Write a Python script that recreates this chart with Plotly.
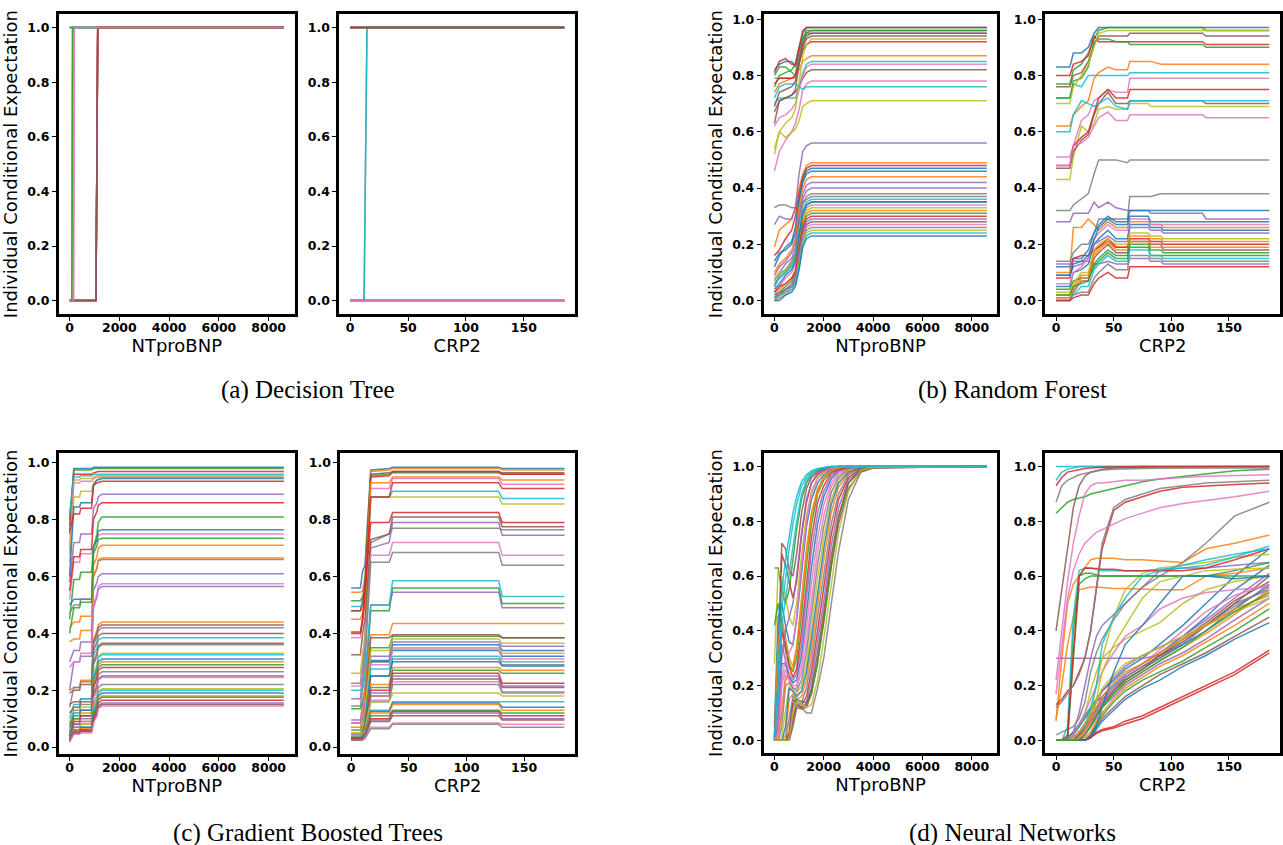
import plotly.graph_objects as go

TAB10 = ["#1f77b4", "#ff7f0e", "#2ca02c", "#d62728", "#9467bd",
         "#8c564b", "#e377c2", "#7f7f7f", "#bcbd22", "#17becf"]

# ---------------- (a) Decision Tree ----------------
DT_NT_X = [0, 90, 120, 160, 190, 1060, 1130, 8610]
DT_NT_Y = [
    [1, 1, 1, 1, 1, 1, 1, 1],
    [0, 0, 0, 0, 0, 0, 1, 1],
    [1, 1, 1, 1, 1, 1, 1, 1],
    [0, 0, 0, 0, 0, 0, 1, 1],
    [0, 0, 1, 1, 1, 1, 1, 1],
    [0, 0, 0, 0, 0, 0, 1, 1],
    [0, 0, 0, 0, 1, 1, 1, 1],
    [1, 1, 1, 1, 1, 1, 1, 1],
    [0, 0, 1, 1, 1, 1, 1, 1],
    [1, 1, 1, 1, 1, 1, 1, 1],
    [0, 0, 0, 0, 0, 0, 1, 1],
    [0, 0, 0, 0, 0, 0, 1, 1],
    [0, 0, 1, 1, 1, 1, 1, 1],
    [0, 0, 0, 0, 0, 0, 1, 1],
    [0, 0, 0, 0, 0, 0, 1, 1],
    [0, 0, 0, 0, 0, 0, 1, 1],
    [0, 0, 0, 0, 1, 1, 1, 1],
]

DT_CR_X = [0, 12, 14.5, 185]
DT_CR_Y = [
    [0, 0, 0, 0], [1, 1, 1, 1], [0, 0, 0, 0], [1, 1, 1, 1], [0, 0, 0, 0],
    [1, 1, 1, 1], [0, 0, 0, 0], [0, 0, 1, 1], [0, 0, 0, 0], [0, 0, 1, 1],
    [1, 1, 1, 1], [0, 0, 0, 0], [1, 1, 1, 1], [1, 1, 1, 1], [0, 0, 0, 0],
    [1, 1, 1, 1], [0, 0, 0, 0],
]

# ---------------- (b) Random Forest ----------------
RF_NT_X = [0, 200, 450, 700, 850, 1000, 1150, 1300, 1500, 1700, 8610]
RF_NT_Y = [
    [0.82, 0.84, 0.85, 0.85, 0.83, 0.88, 0.95, 0.97, 0.97, 0.97, 0.97],
    [0.19, 0.25, 0.27, 0.29, 0.33, 0.40, 0.45, 0.48, 0.49, 0.49, 0.49],
    [0.80, 0.83, 0.83, 0.81, 0.80, 0.86, 0.93, 0.96, 0.96, 0.96, 0.96],
    [0.16, 0.18, 0.22, 0.25, 0.30, 0.38, 0.44, 0.47, 0.48, 0.48, 0.48],
    [0.27, 0.30, 0.29, 0.29, 0.33, 0.45, 0.53, 0.55, 0.56, 0.56, 0.56],
    [0.67, 0.71, 0.72, 0.73, 0.75, 0.84, 0.90, 0.93, 0.94, 0.94, 0.94],
    [0.46, 0.53, 0.57, 0.60, 0.63, 0.68, 0.75, 0.77, 0.78, 0.78, 0.78],
    [0.79, 0.79, 0.79, 0.79, 0.80, 0.87, 0.92, 0.95, 0.95, 0.95, 0.95],
    [0.52, 0.60, 0.58, 0.60, 0.61, 0.64, 0.69, 0.70, 0.71, 0.71, 0.71],
    [0.70, 0.72, 0.72, 0.72, 0.72, 0.76, 0.81, 0.84, 0.85, 0.85, 0.85],
    [0.12, 0.16, 0.19, 0.21, 0.26, 0.36, 0.43, 0.46, 0.47, 0.47, 0.47],
    [0.74, 0.77, 0.78, 0.79, 0.79, 0.82, 0.85, 0.86, 0.87, 0.87, 0.87],
    [0.76, 0.80, 0.81, 0.82, 0.84, 0.90, 0.93, 0.95, 0.96, 0.96, 0.96],
    [0.77, 0.79, 0.79, 0.79, 0.80, 0.85, 0.89, 0.91, 0.92, 0.92, 0.92],
    [0.09, 0.12, 0.14, 0.17, 0.21, 0.31, 0.38, 0.41, 0.42, 0.42, 0.42],
    [0.63, 0.71, 0.72, 0.73, 0.74, 0.76, 0.79, 0.81, 0.82, 0.82, 0.82],
    [0.62, 0.65, 0.66, 0.68, 0.70, 0.75, 0.80, 0.83, 0.84, 0.84, 0.84],
    [0.33, 0.34, 0.34, 0.33, 0.33, 0.34, 0.35, 0.36, 0.37, 0.37, 0.37],
    [0.54, 0.60, 0.63, 0.65, 0.68, 0.78, 0.87, 0.91, 0.93, 0.93, 0.93],
    [0.72, 0.76, 0.77, 0.77, 0.77, 0.76, 0.75, 0.76, 0.76, 0.76, 0.76],
    [0.14, 0.17, 0.18, 0.20, 0.24, 0.35, 0.42, 0.45, 0.46, 0.46, 0.46],
    [0.10, 0.13, 0.15, 0.18, 0.22, 0.33, 0.40, 0.43, 0.44, 0.44, 0.44],
    [0.06, 0.08, 0.10, 0.13, 0.16, 0.24, 0.31, 0.34, 0.35, 0.35, 0.35],
    [0.81, 0.85, 0.86, 0.84, 0.84, 0.90, 0.96, 0.97, 0.97, 0.97, 0.97],
    [0.07, 0.10, 0.13, 0.15, 0.19, 0.29, 0.36, 0.39, 0.40, 0.40, 0.40],
    [0.69, 0.74, 0.75, 0.76, 0.78, 0.85, 0.91, 0.94, 0.95, 0.95, 0.95],
    [0.03, 0.05, 0.08, 0.10, 0.13, 0.22, 0.30, 0.33, 0.34, 0.34, 0.34],
    [0.05, 0.09, 0.11, 0.14, 0.17, 0.27, 0.34, 0.37, 0.38, 0.38, 0.38],
    [0.08, 0.10, 0.11, 0.13, 0.15, 0.22, 0.29, 0.32, 0.33, 0.33, 0.33],
    [0.05, 0.08, 0.10, 0.12, 0.15, 0.24, 0.32, 0.35, 0.36, 0.36, 0.36],
    [0.04, 0.06, 0.09, 0.11, 0.14, 0.23, 0.31, 0.34, 0.35, 0.35, 0.35],
    [0.02, 0.04, 0.06, 0.08, 0.11, 0.20, 0.28, 0.31, 0.32, 0.32, 0.32],
    [0.01, 0.03, 0.05, 0.07, 0.10, 0.19, 0.27, 0.30, 0.31, 0.31, 0.31],
    [0.03, 0.05, 0.06, 0.08, 0.10, 0.18, 0.26, 0.29, 0.30, 0.30, 0.30],
    [0.00, 0.02, 0.04, 0.06, 0.09, 0.17, 0.25, 0.28, 0.29, 0.29, 0.29],
    [0.01, 0.02, 0.04, 0.05, 0.08, 0.16, 0.24, 0.27, 0.28, 0.28, 0.28],
    [0.00, 0.01, 0.03, 0.05, 0.07, 0.15, 0.23, 0.26, 0.27, 0.27, 0.27],
    [0.02, 0.03, 0.04, 0.05, 0.07, 0.14, 0.22, 0.25, 0.26, 0.26, 0.26],
    [0.00, 0.01, 0.02, 0.04, 0.06, 0.13, 0.21, 0.24, 0.25, 0.25, 0.25],
    [0.01, 0.02, 0.03, 0.04, 0.06, 0.12, 0.20, 0.23, 0.24, 0.24, 0.24],
    [0.00, 0.00, 0.02, 0.03, 0.05, 0.11, 0.19, 0.22, 0.23, 0.23, 0.23],
]

RF_CR_X = [0, 12, 15, 22, 28, 33, 37, 45, 52, 62, 64, 80, 82, 91, 93, 127, 130, 185]
RF_CR_Y = [
    [0.83, 0.83, 0.88, 0.88, 0.90, 0.95, 0.97, 0.97, 0.97, 0.97, 0.97, 0.97, 0.97, 0.97, 0.97, 0.97, 0.97, 0.97],
    [0.10, 0.10, 0.26, 0.26, 0.29, 0.27, 0.25, 0.28, 0.26, 0.26, 0.28, 0.28, 0.27, 0.27, 0.26, 0.26, 0.26, 0.26],
    [0.77, 0.77, 0.82, 0.84, 0.88, 0.93, 0.96, 0.97, 0.97, 0.97, 0.97, 0.97, 0.97, 0.97, 0.97, 0.97, 0.96, 0.96],
    [0.80, 0.80, 0.84, 0.85, 0.87, 0.94, 0.92, 0.92, 0.92, 0.92, 0.92, 0.92, 0.92, 0.92, 0.92, 0.92, 0.91, 0.91],
    [0.28, 0.28, 0.31, 0.31, 0.31, 0.35, 0.33, 0.35, 0.33, 0.32, 0.32, 0.32, 0.31, 0.31, 0.31, 0.31, 0.29, 0.29],
    [0.76, 0.76, 0.80, 0.81, 0.85, 0.91, 0.94, 0.94, 0.94, 0.94, 0.95, 0.95, 0.95, 0.95, 0.95, 0.95, 0.94, 0.94],
    [0.51, 0.51, 0.55, 0.64, 0.66, 0.71, 0.72, 0.75, 0.74, 0.74, 0.79, 0.79, 0.79, 0.79, 0.79, 0.79, 0.79, 0.79],
    [0.32, 0.32, 0.34, 0.36, 0.38, 0.45, 0.50, 0.50, 0.50, 0.49, 0.50, 0.50, 0.50, 0.50, 0.50, 0.50, 0.50, 0.50],
    [0.43, 0.43, 0.51, 0.62, 0.60, 0.63, 0.68, 0.69, 0.68, 0.68, 0.70, 0.70, 0.69, 0.69, 0.69, 0.69, 0.69, 0.69],
    [0.72, 0.72, 0.77, 0.76, 0.80, 0.80, 0.80, 0.80, 0.80, 0.80, 0.81, 0.81, 0.81, 0.81, 0.81, 0.81, 0.81, 0.81],
    [0.05, 0.05, 0.10, 0.11, 0.13, 0.20, 0.22, 0.25, 0.22, 0.22, 0.27, 0.27, 0.26, 0.26, 0.25, 0.25, 0.25, 0.25],
    [0.62, 0.62, 0.66, 0.69, 0.71, 0.79, 0.81, 0.83, 0.82, 0.82, 0.85, 0.85, 0.85, 0.84, 0.84, 0.84, 0.84, 0.84],
    [0.72, 0.72, 0.78, 0.79, 0.83, 0.92, 0.93, 0.93, 0.92, 0.92, 0.91, 0.91, 0.91, 0.91, 0.91, 0.91, 0.90, 0.90],
    [0.48, 0.48, 0.55, 0.58, 0.60, 0.67, 0.72, 0.75, 0.72, 0.72, 0.75, 0.75, 0.75, 0.75, 0.75, 0.75, 0.75, 0.75],
    [0.09, 0.09, 0.12, 0.13, 0.15, 0.20, 0.21, 0.23, 0.21, 0.21, 0.26, 0.26, 0.25, 0.25, 0.24, 0.24, 0.24, 0.24],
    [0.47, 0.47, 0.53, 0.57, 0.59, 0.66, 0.70, 0.74, 0.70, 0.70, 0.71, 0.71, 0.71, 0.71, 0.71, 0.71, 0.70, 0.70],
    [0.48, 0.48, 0.55, 0.56, 0.58, 0.62, 0.65, 0.67, 0.64, 0.64, 0.66, 0.66, 0.66, 0.66, 0.66, 0.66, 0.65, 0.65],
    [0.14, 0.14, 0.17, 0.20, 0.20, 0.24, 0.29, 0.29, 0.29, 0.29, 0.37, 0.37, 0.37, 0.38, 0.38, 0.38, 0.38, 0.38],
    [0.70, 0.70, 0.76, 0.80, 0.84, 0.90, 0.95, 0.96, 0.96, 0.96, 0.96, 0.96, 0.96, 0.96, 0.96, 0.96, 0.96, 0.96],
    [0.60, 0.60, 0.66, 0.71, 0.70, 0.69, 0.70, 0.72, 0.69, 0.68, 0.71, 0.71, 0.71, 0.71, 0.71, 0.71, 0.71, 0.71],
    [0.12, 0.12, 0.15, 0.15, 0.18, 0.24, 0.27, 0.30, 0.28, 0.28, 0.32, 0.32, 0.32, 0.32, 0.32, 0.32, 0.32, 0.32],
    [0.02, 0.02, 0.05, 0.09, 0.09, 0.17, 0.19, 0.21, 0.19, 0.19, 0.23, 0.23, 0.22, 0.22, 0.21, 0.21, 0.21, 0.21],
    [0.04, 0.04, 0.07, 0.08, 0.08, 0.12, 0.14, 0.17, 0.15, 0.15, 0.19, 0.19, 0.16, 0.16, 0.16, 0.16, 0.16, 0.16],
    [0.08, 0.08, 0.15, 0.16, 0.16, 0.18, 0.19, 0.22, 0.19, 0.19, 0.22, 0.22, 0.21, 0.21, 0.20, 0.20, 0.20, 0.20],
    [0.13, 0.13, 0.14, 0.14, 0.14, 0.13, 0.13, 0.14, 0.13, 0.13, 0.15, 0.15, 0.14, 0.14, 0.13, 0.13, 0.13, 0.13],
    [0.00, 0.00, 0.03, 0.07, 0.07, 0.15, 0.17, 0.20, 0.17, 0.17, 0.21, 0.21, 0.20, 0.20, 0.18, 0.18, 0.18, 0.18],
    [0.06, 0.06, 0.10, 0.12, 0.15, 0.22, 0.24, 0.27, 0.25, 0.25, 0.29, 0.29, 0.27, 0.27, 0.27, 0.27, 0.27, 0.27],
    [0.01, 0.01, 0.02, 0.03, 0.03, 0.08, 0.10, 0.13, 0.11, 0.11, 0.16, 0.16, 0.15, 0.15, 0.14, 0.14, 0.14, 0.14],
    [0.03, 0.03, 0.06, 0.10, 0.10, 0.18, 0.20, 0.22, 0.20, 0.20, 0.24, 0.24, 0.23, 0.23, 0.22, 0.22, 0.22, 0.22],
    [0.00, 0.00, 0.02, 0.05, 0.05, 0.11, 0.13, 0.16, 0.14, 0.14, 0.18, 0.18, 0.16, 0.16, 0.15, 0.15, 0.15, 0.15],
    [0.09, 0.09, 0.13, 0.14, 0.16, 0.22, 0.26, 0.29, 0.27, 0.27, 0.30, 0.30, 0.28, 0.28, 0.28, 0.28, 0.28, 0.28],
    [0.01, 0.01, 0.04, 0.08, 0.08, 0.16, 0.18, 0.21, 0.18, 0.18, 0.21, 0.21, 0.19, 0.19, 0.19, 0.19, 0.19, 0.19],
    [0.02, 0.02, 0.05, 0.06, 0.07, 0.13, 0.15, 0.18, 0.16, 0.16, 0.20, 0.20, 0.18, 0.18, 0.17, 0.17, 0.17, 0.17],
    [0.00, 0.00, 0.01, 0.02, 0.02, 0.06, 0.08, 0.10, 0.08, 0.08, 0.12, 0.12, 0.12, 0.12, 0.12, 0.12, 0.12, 0.12],
]

# ---------------- (c) Gradient Boosted Trees ----------------
GB_NT_X = [0, 170, 400, 450, 880, 960, 1100, 1150, 1300, 8610]
GB_NT_Y = [
    [0.78, 0.98, 0.98, 0.98, 0.98, 0.985, 0.985, 0.985, 0.985, 0.985],
    [0.20, 0.21, 0.21, 0.235, 0.235, 0.38, 0.41, 0.43, 0.44, 0.44],
    [0.80, 0.975, 0.975, 0.975, 0.975, 0.98, 0.98, 0.98, 0.98, 0.98],
    [0.75, 0.96, 0.96, 0.96, 0.96, 0.965, 0.97, 0.97, 0.97, 0.97],
    [0.58, 0.72, 0.72, 0.75, 0.75, 0.84, 0.86, 0.88, 0.89, 0.89],
    [0.19, 0.20, 0.20, 0.22, 0.22, 0.37, 0.40, 0.42, 0.43, 0.43],
    [0.52, 0.65, 0.65, 0.68, 0.68, 0.71, 0.73, 0.745, 0.75, 0.75],
    [0.14, 0.21, 0.21, 0.23, 0.23, 0.36, 0.39, 0.41, 0.42, 0.42],
    [0.70, 0.94, 0.94, 0.945, 0.945, 0.95, 0.955, 0.955, 0.955, 0.955],
    [0.82, 0.95, 0.95, 0.955, 0.955, 0.96, 0.96, 0.96, 0.96, 0.96],
    [0.50, 0.52, 0.52, 0.52, 0.52, 0.70, 0.73, 0.76, 0.765, 0.765],
    [0.37, 0.38, 0.38, 0.41, 0.41, 0.64, 0.67, 0.70, 0.71, 0.71],
    [0.45, 0.59, 0.59, 0.615, 0.615, 0.70, 0.75, 0.79, 0.81, 0.81],
    [0.55, 0.67, 0.67, 0.695, 0.695, 0.80, 0.83, 0.85, 0.86, 0.86],
    [0.30, 0.34, 0.34, 0.37, 0.37, 0.55, 0.58, 0.60, 0.61, 0.61],
    [0.15, 0.16, 0.16, 0.17, 0.17, 0.34, 0.37, 0.39, 0.40, 0.40],
    [0.68, 0.93, 0.93, 0.935, 0.935, 0.945, 0.95, 0.95, 0.95, 0.95],
    [0.47, 0.50, 0.50, 0.52, 0.52, 0.60, 0.63, 0.655, 0.66, 0.66],
    [0.65, 0.88, 0.88, 0.90, 0.90, 0.93, 0.94, 0.945, 0.95, 0.95],
    [0.10, 0.15, 0.15, 0.17, 0.17, 0.32, 0.35, 0.375, 0.385, 0.385],
    [0.60, 0.845, 0.845, 0.86, 0.86, 0.92, 0.94, 0.94, 0.945, 0.945],
    [0.42, 0.44, 0.44, 0.46, 0.46, 0.60, 0.63, 0.66, 0.665, 0.665],
    [0.40, 0.49, 0.49, 0.51, 0.51, 0.68, 0.71, 0.73, 0.735, 0.735],
    [0.76, 0.82, 0.82, 0.84, 0.84, 0.92, 0.93, 0.93, 0.935, 0.935],
    [0.20, 0.30, 0.30, 0.32, 0.32, 0.49, 0.53, 0.555, 0.565, 0.565],
    [0.12, 0.14, 0.14, 0.16, 0.16, 0.30, 0.33, 0.355, 0.365, 0.365],
    [0.28, 0.30, 0.30, 0.33, 0.33, 0.50, 0.54, 0.565, 0.575, 0.575],
    [0.08, 0.13, 0.13, 0.15, 0.15, 0.29, 0.32, 0.35, 0.36, 0.36],
    [0.09, 0.12, 0.12, 0.14, 0.14, 0.26, 0.29, 0.32, 0.33, 0.33],
    [0.06, 0.12, 0.12, 0.13, 0.13, 0.25, 0.28, 0.315, 0.325, 0.325],
    [0.07, 0.11, 0.11, 0.13, 0.13, 0.24, 0.27, 0.30, 0.31, 0.31],
    [0.05, 0.10, 0.10, 0.12, 0.12, 0.23, 0.26, 0.29, 0.30, 0.30],
    [0.04, 0.10, 0.10, 0.11, 0.11, 0.22, 0.25, 0.28, 0.29, 0.29],
    [0.03, 0.09, 0.09, 0.11, 0.11, 0.21, 0.24, 0.27, 0.28, 0.28],
    [0.05, 0.08, 0.08, 0.10, 0.10, 0.19, 0.22, 0.255, 0.265, 0.265],
    [0.04, 0.08, 0.08, 0.09, 0.09, 0.18, 0.21, 0.24, 0.25, 0.25],
    [0.03, 0.07, 0.07, 0.09, 0.09, 0.17, 0.20, 0.235, 0.245, 0.245],
    [0.03, 0.07, 0.07, 0.08, 0.08, 0.15, 0.18, 0.21, 0.22, 0.22],
    [0.02, 0.06, 0.06, 0.08, 0.08, 0.14, 0.17, 0.195, 0.205, 0.205],
    [0.03, 0.06, 0.06, 0.07, 0.07, 0.13, 0.16, 0.19, 0.20, 0.20],
    [0.02, 0.06, 0.06, 0.07, 0.07, 0.12, 0.15, 0.18, 0.19, 0.19],
    [0.02, 0.06, 0.06, 0.065, 0.065, 0.11, 0.14, 0.17, 0.18, 0.18],
    [0.03, 0.055, 0.055, 0.06, 0.06, 0.11, 0.14, 0.165, 0.175, 0.175],
    [0.02, 0.05, 0.05, 0.06, 0.06, 0.10, 0.13, 0.155, 0.165, 0.165],
    [0.02, 0.05, 0.05, 0.055, 0.055, 0.09, 0.12, 0.145, 0.155, 0.155],
    [0.025, 0.05, 0.05, 0.055, 0.055, 0.09, 0.115, 0.14, 0.15, 0.15],
    [0.02, 0.045, 0.045, 0.05, 0.05, 0.085, 0.11, 0.135, 0.145, 0.145],
]

GB_CR_X = [0, 8, 10, 12, 17, 33, 36, 128, 131, 185]
GB_CR_Y = [
    [0.56, 0.56, 0.62, 0.64, 0.975, 0.98, 0.985, 0.985, 0.98, 0.98],
    [0.545, 0.545, 0.55, 0.60, 0.97, 0.975, 0.98, 0.98, 0.975, 0.975],
    [0.515, 0.515, 0.53, 0.58, 0.955, 0.96, 0.965, 0.965, 0.96, 0.96],
    [0.48, 0.48, 0.50, 0.55, 0.95, 0.955, 0.97, 0.97, 0.96, 0.96],
    [0.17, 0.17, 0.25, 0.35, 0.70, 0.72, 0.79, 0.79, 0.745, 0.745],
    [0.48, 0.48, 0.52, 0.56, 0.96, 0.965, 0.97, 0.97, 0.965, 0.965],
    [0.385, 0.385, 0.45, 0.50, 0.91, 0.91, 0.945, 0.945, 0.925, 0.925],
    [0.225, 0.225, 0.30, 0.40, 0.72, 0.75, 0.77, 0.77, 0.765, 0.765],
    [0.26, 0.26, 0.33, 0.38, 0.88, 0.88, 0.88, 0.88, 0.855, 0.855],
    [0.495, 0.495, 0.50, 0.52, 0.88, 0.88, 0.90, 0.90, 0.875, 0.875],
    [0.04, 0.04, 0.06, 0.10, 0.305, 0.305, 0.36, 0.36, 0.34, 0.34],
    [0.45, 0.45, 0.47, 0.50, 0.93, 0.93, 0.95, 0.95, 0.94, 0.94],
    [0.135, 0.135, 0.16, 0.20, 0.48, 0.48, 0.56, 0.56, 0.505, 0.505],
    [0.40, 0.40, 0.45, 0.55, 0.79, 0.79, 0.825, 0.825, 0.79, 0.79],
    [0.095, 0.095, 0.15, 0.20, 0.50, 0.50, 0.545, 0.545, 0.49, 0.49],
    [0.325, 0.325, 0.40, 0.45, 0.73, 0.75, 0.81, 0.81, 0.775, 0.775],
    [0.215, 0.215, 0.25, 0.33, 0.675, 0.675, 0.72, 0.72, 0.675, 0.675],
    [0.145, 0.145, 0.20, 0.30, 0.65, 0.65, 0.685, 0.685, 0.64, 0.64],
    [0.05, 0.05, 0.07, 0.10, 0.30, 0.30, 0.35, 0.35, 0.33, 0.33],
    [0.20, 0.20, 0.21, 0.25, 0.50, 0.50, 0.585, 0.585, 0.53, 0.53],
    [0.035, 0.035, 0.05, 0.09, 0.30, 0.30, 0.34, 0.34, 0.32, 0.32],
    [0.07, 0.07, 0.12, 0.20, 0.395, 0.395, 0.435, 0.435, 0.435, 0.435],
    [0.06, 0.06, 0.08, 0.12, 0.35, 0.35, 0.39, 0.39, 0.385, 0.385],
    [0.405, 0.405, 0.45, 0.55, 0.88, 0.88, 0.93, 0.93, 0.91, 0.91],
    [0.045, 0.045, 0.06, 0.10, 0.32, 0.32, 0.37, 0.37, 0.355, 0.355],
    [0.085, 0.085, 0.10, 0.15, 0.385, 0.385, 0.395, 0.395, 0.385, 0.385],
    [0.085, 0.085, 0.10, 0.14, 0.29, 0.29, 0.345, 0.345, 0.31, 0.31],
    [0.03, 0.03, 0.05, 0.08, 0.25, 0.25, 0.31, 0.31, 0.29, 0.29],
    [0.05, 0.05, 0.07, 0.11, 0.34, 0.34, 0.38, 0.38, 0.365, 0.365],
    [0.04, 0.04, 0.05, 0.09, 0.275, 0.275, 0.32, 0.32, 0.30, 0.30],
    [0.035, 0.035, 0.05, 0.08, 0.25, 0.25, 0.30, 0.30, 0.285, 0.285],
    [0.03, 0.03, 0.04, 0.07, 0.22, 0.22, 0.28, 0.28, 0.27, 0.27],
    [0.03, 0.03, 0.04, 0.07, 0.21, 0.21, 0.27, 0.27, 0.26, 0.26],
    [0.025, 0.025, 0.04, 0.07, 0.20, 0.20, 0.26, 0.26, 0.225, 0.225],
    [0.03, 0.03, 0.04, 0.06, 0.19, 0.19, 0.25, 0.25, 0.215, 0.215],
    [0.025, 0.025, 0.035, 0.06, 0.18, 0.18, 0.24, 0.24, 0.21, 0.21],
    [0.03, 0.03, 0.035, 0.06, 0.165, 0.165, 0.23, 0.23, 0.195, 0.195],
    [0.025, 0.025, 0.035, 0.05, 0.16, 0.16, 0.22, 0.22, 0.19, 0.19],
    [0.04, 0.04, 0.05, 0.06, 0.16, 0.16, 0.19, 0.19, 0.18, 0.18],
    [0.025, 0.025, 0.03, 0.05, 0.13, 0.13, 0.16, 0.16, 0.16, 0.16],
    [0.03, 0.03, 0.035, 0.05, 0.125, 0.125, 0.155, 0.155, 0.14, 0.14],
    [0.025, 0.025, 0.03, 0.045, 0.12, 0.12, 0.15, 0.15, 0.13, 0.13],
    [0.025, 0.025, 0.03, 0.04, 0.11, 0.11, 0.13, 0.13, 0.12, 0.12],
    [0.03, 0.03, 0.03, 0.04, 0.10, 0.10, 0.125, 0.125, 0.11, 0.11],
    [0.025, 0.025, 0.03, 0.04, 0.095, 0.095, 0.12, 0.12, 0.10, 0.10],
    [0.025, 0.025, 0.03, 0.035, 0.09, 0.09, 0.11, 0.11, 0.095, 0.095],
    [0.025, 0.025, 0.025, 0.035, 0.07, 0.07, 0.085, 0.085, 0.08, 0.08],
    [0.025, 0.025, 0.025, 0.03, 0.065, 0.065, 0.08, 0.08, 0.07, 0.07],
]

# ---------------- (d) Neural Networks ----------------
NN_NT_X = [0, 150, 300, 450, 600, 750, 900, 1100, 1300, 1500, 1750, 2000, 2300, 2600, 3000, 3500, 4000, 8610]
NN_NT_Y = [
    [0.0, 0.05, 0.28, 0.28, 0.23, 0.21, 0.22, 0.31, 0.46, 0.63, 0.79, 0.89, 0.955, 0.984, 0.996, 1.0, 1.0, 1.0],
    [0.0, 0.0, 0.0, 0.02, 0.15, 0.17, 0.15, 0.16, 0.22, 0.33, 0.50, 0.66, 0.83, 0.925, 0.975, 0.995, 0.999, 1.0],
    [0.63, 0.63, 0.55, 0.50, 0.55, 0.66, 0.77, 0.88, 0.94, 0.97, 0.985, 0.994, 0.998, 1.0, 1.0, 1.0, 1.0, 1.0],
    [0.0, 0.25, 0.68, 0.64, 0.58, 0.52, 0.58, 0.75, 0.87, 0.94, 0.97, 0.985, 0.995, 1.0, 1.0, 1.0, 1.0, 1.0],
    [0.0, 0.10, 0.35, 0.30, 0.24, 0.22, 0.24, 0.35, 0.52, 0.69, 0.83, 0.91, 0.965, 0.988, 0.997, 1.0, 1.0, 1.0],
    [0.0, 0.30, 0.72, 0.70, 0.62, 0.60, 0.68, 0.83, 0.92, 0.96, 0.98, 0.99, 0.997, 1.0, 1.0, 1.0, 1.0, 1.0],
    [0.0, 0.02, 0.20, 0.26, 0.22, 0.20, 0.20, 0.28, 0.41, 0.57, 0.74, 0.86, 0.94, 0.978, 0.994, 0.999, 1.0, 1.0],
    [0.0, 0.0, 0.0, 0.0, 0.0, 0.08, 0.13, 0.12, 0.10, 0.10, 0.19, 0.30, 0.49, 0.69, 0.88, 0.98, 0.997, 1.0],
    [0.28, 0.62, 0.60, 0.52, 0.45, 0.42, 0.50, 0.68, 0.82, 0.91, 0.96, 0.98, 0.993, 0.998, 1.0, 1.0, 1.0, 1.0],
    [0.02, 0.30, 0.55, 0.66, 0.75, 0.83, 0.89, 0.945, 0.97, 0.985, 0.993, 0.997, 1.0, 1.0, 1.0, 1.0, 1.0, 1.0],
    [0.05, 0.45, 0.50, 0.42, 0.36, 0.35, 0.44, 0.62, 0.78, 0.88, 0.94, 0.97, 0.99, 0.997, 1.0, 1.0, 1.0, 1.0],
    [0.02, 0.35, 0.45, 0.38, 0.30, 0.27, 0.34, 0.52, 0.70, 0.83, 0.92, 0.96, 0.985, 0.995, 1.0, 1.0, 1.0, 1.0],
    [0.42, 0.50, 0.42, 0.35, 0.28, 0.25, 0.30, 0.46, 0.64, 0.79, 0.90, 0.95, 0.98, 0.993, 0.998, 1.0, 1.0, 1.0],
    [0.01, 0.20, 0.40, 0.33, 0.27, 0.23, 0.26, 0.40, 0.58, 0.74, 0.87, 0.93, 0.975, 0.99, 0.997, 1.0, 1.0, 1.0],
    [0.0, 0.05, 0.30, 0.40, 0.45, 0.50, 0.60, 0.76, 0.88, 0.94, 0.975, 0.99, 0.997, 1.0, 1.0, 1.0, 1.0, 1.0],
    [0.0, 0.0, 0.0, 0.0, 0.0, 0.05, 0.12, 0.115, 0.12, 0.17, 0.29, 0.43, 0.63, 0.79, 0.92, 0.98, 0.995, 1.0],
    [0.0, 0.01, 0.12, 0.24, 0.22, 0.19, 0.19, 0.25, 0.36, 0.51, 0.69, 0.82, 0.925, 0.97, 0.992, 0.999, 1.0, 1.0],
    [0.0, 0.0, 0.05, 0.20, 0.21, 0.19, 0.18, 0.22, 0.32, 0.46, 0.64, 0.78, 0.905, 0.96, 0.99, 0.998, 1.0, 1.0],
    [0.0, 0.0, 0.02, 0.12, 0.20, 0.18, 0.17, 0.20, 0.28, 0.41, 0.59, 0.74, 0.88, 0.95, 0.985, 0.997, 1.0, 1.0],
    [0.0, 0.15, 0.42, 0.52, 0.60, 0.70, 0.80, 0.90, 0.95, 0.975, 0.99, 0.996, 1.0, 1.0, 1.0, 1.0, 1.0, 1.0],
    [0.0, 0.0, 0.0, 0.05, 0.19, 0.18, 0.16, 0.18, 0.25, 0.37, 0.54, 0.70, 0.86, 0.94, 0.98, 0.996, 0.999, 1.0],
    [0.0, 0.0, 0.10, 0.22, 0.24, 0.26, 0.33, 0.50, 0.68, 0.82, 0.91, 0.96, 0.985, 0.995, 1.0, 1.0, 1.0, 1.0],
    [0.0, 0.0, 0.0, 0.0, 0.02, 0.13, 0.15, 0.14, 0.14, 0.17, 0.28, 0.44, 0.64, 0.81, 0.94, 0.99, 0.998, 1.0],
    [0.0, 0.0, 0.0, 0.0, 0.03, 0.15, 0.14, 0.13, 0.16, 0.25, 0.40, 0.56, 0.75, 0.88, 0.96, 0.99, 0.998, 1.0],
    [0.0, 0.0, 0.0, 0.0, 0.01, 0.12, 0.14, 0.12, 0.14, 0.22, 0.36, 0.51, 0.71, 0.85, 0.95, 0.988, 0.997, 1.0],
    [0.0, 0.0, 0.0, 0.0, 0.0, 0.08, 0.13, 0.12, 0.13, 0.19, 0.32, 0.47, 0.67, 0.82, 0.94, 0.985, 0.996, 1.0],
    [0.0, 0.02, 0.22, 0.30, 0.32, 0.35, 0.45, 0.64, 0.80, 0.90, 0.955, 0.98, 0.993, 0.998, 1.0, 1.0, 1.0, 1.0],
    [0.0, 0.0, 0.0, 0.0, 0.08, 0.16, 0.15, 0.14, 0.19, 0.29, 0.45, 0.61, 0.79, 0.90, 0.97, 0.993, 0.999, 1.0],
    [0.0, 0.0, 0.0, 0.0, 0.0, 0.10, 0.14, 0.13, 0.12, 0.13, 0.22, 0.37, 0.57, 0.76, 0.91, 0.985, 0.998, 1.0],
    [0.01, 0.22, 0.48, 0.60, 0.70, 0.79, 0.86, 0.93, 0.96, 0.98, 0.99, 0.996, 1.0, 1.0, 1.0, 1.0, 1.0, 1.0],
]

NN_CR_X = [0, 5, 10, 15, 20, 25, 30, 35, 40, 50, 60, 75, 90, 110, 130, 155, 185]
NN_CR_Y = [
    [0, 0, 0.01, 0.03, 0.06, 0.09, 0.12, 0.15, 0.18, 0.22, 0.26, 0.30, 0.35, 0.42, 0.50, 0.60, 0.70],
    [0.07, 0.30, 0.50, 0.57, 0.60, 0.63, 0.66, 0.665, 0.665, 0.665, 0.66, 0.66, 0.655, 0.65, 0.70, 0.72, 0.75],
    [0.83, 0.85, 0.87, 0.88, 0.885, 0.89, 0.90, 0.905, 0.91, 0.92, 0.93, 0.945, 0.955, 0.965, 0.975, 0.985, 0.99],
    [0, 0, 0, 0, 0, 0, 0.01, 0.03, 0.04, 0.05, 0.07, 0.09, 0.12, 0.16, 0.20, 0.25, 0.33],
    [0.30, 0.30, 0.30, 0.30, 0.30, 0.30, 0.30, 0.30, 0.30, 0.30, 0.30, 0.30, 0.31, 0.35, 0.42, 0.50, 0.55],
    [0.40, 0.55, 0.70, 0.85, 0.93, 0.965, 0.98, 0.985, 0.99, 0.995, 0.997, 0.998, 0.999, 1.0, 1.0, 1.0, 1.0],
    [0.22, 0.40, 0.58, 0.72, 0.82, 0.90, 0.93, 0.94, 0.94, 0.945, 0.95, 0.95, 0.955, 0.96, 0.965, 0.968, 0.97],
    [0.87, 0.93, 0.95, 0.96, 0.97, 0.975, 0.98, 0.985, 0.988, 0.99, 0.992, 0.993, 0.994, 0.995, 0.995, 0.995, 0.995],
    [0, 0, 0.01, 0.02, 0.05, 0.10, 0.18, 0.25, 0.30, 0.34, 0.37, 0.40, 0.43, 0.50, 0.55, 0.58, 0.60],
    [1.0, 1.0, 1.0, 1.0, 1.0, 1.0, 1.0, 1.0, 1.0, 1.0, 1.0, 1.0, 1.0, 1.0, 1.0, 1.0, 1.0],
    [0, 0, 0, 0.02, 0.05, 0.08, 0.11, 0.14, 0.16, 0.20, 0.24, 0.28, 0.32, 0.38, 0.45, 0.55, 0.64],
    [0.08, 0.20, 0.35, 0.45, 0.55, 0.555, 0.56, 0.56, 0.558, 0.555, 0.555, 0.552, 0.55, 0.55, 0.60, 0.61, 0.63],
    [0, 0, 0, 0.4, 0.6, 0.61, 0.61, 0.605, 0.60, 0.60, 0.60, 0.60, 0.60, 0.60, 0.60, 0.60, 0.60],
    [0.13, 0.15, 0.18, 0.20, 0.25, 0.30, 0.40, 0.55, 0.70, 0.84, 0.87, 0.89, 0.91, 0.925, 0.93, 0.935, 0.94],
    [0, 0, 0.01, 0.03, 0.10, 0.20, 0.30, 0.38, 0.42, 0.46, 0.50, 0.56, 0.62, 0.63, 0.63, 0.64, 0.65],
    [0, 0, 0, 0.01, 0.03, 0.06, 0.09, 0.12, 0.15, 0.19, 0.23, 0.27, 0.31, 0.36, 0.42, 0.50, 0.60],
    [0.17, 0.35, 0.52, 0.62, 0.68, 0.72, 0.74, 0.76, 0.77, 0.79, 0.81, 0.83, 0.85, 0.865, 0.875, 0.89, 0.91],
    [0.02, 0.03, 0.04, 0.05, 0.08, 0.14, 0.25, 0.32, 0.37, 0.44, 0.50, 0.56, 0.60, 0.65, 0.72, 0.82, 0.87],
    [0, 0, 0, 0.01, 0.03, 0.05, 0.10, 0.20, 0.30, 0.45, 0.55, 0.61, 0.63, 0.64, 0.65, 0.67, 0.68],
    [0, 0, 0.05, 0.45, 0.62, 0.63, 0.63, 0.625, 0.62, 0.62, 0.62, 0.62, 0.625, 0.63, 0.64, 0.67, 0.71],
    [0, 0, 0, 0, 0.02, 0.05, 0.08, 0.11, 0.14, 0.18, 0.22, 0.26, 0.30, 0.35, 0.40, 0.48, 0.57],
    [0, 0, 0, 0, 0.01, 0.03, 0.06, 0.10, 0.13, 0.17, 0.21, 0.25, 0.29, 0.34, 0.39, 0.46, 0.55],
    [0, 0, 0, 0.3, 0.57, 0.59, 0.60, 0.60, 0.60, 0.60, 0.60, 0.60, 0.60, 0.60, 0.60, 0.62, 0.65],
    [0, 0, 0.02, 0.30, 0.60, 0.63, 0.63, 0.628, 0.625, 0.625, 0.62, 0.62, 0.62, 0.62, 0.63, 0.66, 0.70],
    [0, 0, 0, 0, 0, 0.02, 0.05, 0.08, 0.12, 0.16, 0.20, 0.24, 0.28, 0.32, 0.37, 0.44, 0.52],
    [0, 0, 0, 0, 0, 0, 0.01, 0.05, 0.08, 0.12, 0.16, 0.20, 0.24, 0.28, 0.32, 0.38, 0.45],
    [0, 0, 0, 0.02, 0.06, 0.10, 0.15, 0.20, 0.25, 0.32, 0.38, 0.42, 0.48, 0.52, 0.54, 0.55, 0.56],
    [0.12, 0.14, 0.17, 0.20, 0.24, 0.30, 0.40, 0.56, 0.72, 0.85, 0.88, 0.90, 0.92, 0.93, 0.94, 0.945, 0.95],
    [0, 0, 0, 0, 0, 0.02, 0.05, 0.15, 0.25, 0.35, 0.42, 0.52, 0.58, 0.60, 0.62, 0.625, 0.63],
    [0, 0, 0, 0, 0, 0.05, 0.12, 0.20, 0.35, 0.45, 0.52, 0.60, 0.62, 0.64, 0.66, 0.68, 0.70],
    [0, 0, 0, 0, 0, 0, 0.01, 0.04, 0.07, 0.11, 0.15, 0.19, 0.22, 0.27, 0.31, 0.37, 0.43],
    [0, 0, 0, 0, 0, 0.01, 0.03, 0.07, 0.10, 0.15, 0.19, 0.23, 0.27, 0.31, 0.36, 0.42, 0.50],
    [0, 0, 0, 0, 0, 0, 0.02, 0.06, 0.09, 0.14, 0.18, 0.22, 0.25, 0.29, 0.34, 0.40, 0.48],
    [0, 0, 0, 0, 0, 0, 0.01, 0.025, 0.035, 0.045, 0.06, 0.08, 0.11, 0.15, 0.19, 0.24, 0.32],
    [0, 0, 0, 0.01, 0.03, 0.06, 0.10, 0.14, 0.18, 0.23, 0.27, 0.31, 0.34, 0.38, 0.44, 0.52, 0.61],
    [0, 0, 0, 0, 0.02, 0.04, 0.07, 0.10, 0.13, 0.18, 0.22, 0.26, 0.31, 0.37, 0.43, 0.51, 0.58],
    [0, 0, 0, 0, 0.01, 0.03, 0.06, 0.10, 0.14, 0.19, 0.24, 0.28, 0.33, 0.40, 0.47, 0.53, 0.57],
    [0, 0, 0, 0, 0, 0.02, 0.05, 0.09, 0.13, 0.18, 0.23, 0.27, 0.30, 0.36, 0.42, 0.49, 0.56],
    [0, 0, 0, 0.01, 0.03, 0.06, 0.10, 0.14, 0.19, 0.24, 0.28, 0.31, 0.34, 0.38, 0.42, 0.47, 0.52],
    [0.95, 0.98, 0.99, 0.995, 1.0, 1.0, 1.0, 1.0, 1.0, 1.0, 1.0, 1.0, 1.0, 1.0, 1.0, 1.0, 1.0],
    [0, 0, 0, 0, 0, 0, 0.02, 0.05, 0.12, 0.25, 0.35, 0.42, 0.50, 0.60, 0.60, 0.59, 0.60],
    [0, 0, 0, 0, 0.01, 0.04, 0.08, 0.12, 0.16, 0.21, 0.25, 0.28, 0.32, 0.37, 0.42, 0.48, 0.53],
    [0, 0, 0, 0, 0, 0.02, 0.05, 0.09, 0.12, 0.17, 0.21, 0.25, 0.29, 0.34, 0.40, 0.47, 0.54],
    [0.93, 0.96, 0.98, 0.985, 0.99, 0.993, 0.995, 0.997, 0.998, 0.999, 1.0, 1.0, 1.0, 1.0, 1.0, 1.0, 1.0],
]

# ---------------- tick labels / titles ----------------
NT_TICKS = [0, 2000, 4000, 6000, 8000]
CR_TICKS = [0, 50, 100, 150]
Y_TICKS = [0.0, 0.2, 0.4, 0.6, 0.8, 1.0]
CAPTIONS = ["(a) Decision Tree", "(b) Random Forest",
            "(c) Gradient Boosted Trees", "(d) Neural Networks"]
Y_TITLE = "Individual Conditional Expectation"

W, H = 1283, 845

def fx(a, b):
    return [a / W, b / W]

def fy(top, bottom):
    return [1 - bottom / H, 1 - top / H]

NT_RANGE = [-430, 9040]
CR_RANGE = [-9.25, 194.25]

subplots = [
    (DT_NT_X, DT_NT_Y, fx(59, 295), fy(12, 313), NT_RANGE, [-0.05, 1.05], NT_TICKS, "NTproBNP", True),
    (DT_CR_X, DT_CR_Y, fx(340, 576), fy(12, 313), CR_RANGE, [-0.05, 1.05], CR_TICKS, "CRP2", False),
    (RF_NT_X, RF_NT_Y, fx(765, 999), fy(12, 313), NT_RANGE, [-0.0485, 1.0185], NT_TICKS, "NTproBNP", True),
    (RF_CR_X, RF_CR_Y, fx(1047, 1282), fy(12, 313), CR_RANGE, [-0.0485, 1.0185], CR_TICKS, "CRP2", False),
    (GB_NT_X, GB_NT_Y, fx(59, 295), fy(452, 754), NT_RANGE, [-0.025, 1.035], NT_TICKS, "NTproBNP", True),
    (GB_CR_X, GB_CR_Y, fx(341, 576), fy(452, 754), CR_RANGE, [-0.025, 1.035], CR_TICKS, "CRP2", False),
    (NN_NT_X, NN_NT_Y, fx(765, 999), fy(452, 753), NT_RANGE, [-0.047, 1.05], NT_TICKS, "NTproBNP", True),
    (NN_CR_X, NN_CR_Y, fx(1047, 1282), fy(452, 753), CR_RANGE, [-0.047, 1.05], CR_TICKS, "CRP2", False),
]

fig = go.Figure()
tick_font = dict(family="DejaVu Sans", size=12.5, color="black", weight="bold")
title_font = dict(family="DejaVu Sans", size=18, color="black")
layout = {}

for k, (X, Ys, xd, yd, xr, yr, xt, xtitle, ytit) in enumerate(subplots):
    n = k + 1
    xname = "x" if n == 1 else f"x{n}"
    yname = "y" if n == 1 else f"y{n}"
    for i, ys in enumerate(Ys):
        fig.add_trace(go.Scatter(
            x=X, y=ys, mode="lines",
            line=dict(color=TAB10[i % 10], width=1.5),
            opacity=0.85, showlegend=False, hoverinfo="skip",
            xaxis=xname, yaxis=yname))
    common = dict(showline=True, mirror=True, linewidth=3, linecolor="black",
                  ticks="outside", ticklen=4, tickwidth=1.2, tickcolor="black",
                  showgrid=False, zeroline=False, tickfont=tick_font)
    layout["xaxis" if n == 1 else f"xaxis{n}"] = dict(
        domain=xd, anchor=yname, range=xr, tickvals=xt,
        ticktext=[str(v) for v in xt], ticklabelstandoff=-4,
        title=dict(text=xtitle, font=title_font, standoff=4), **common)
    layout["yaxis" if n == 1 else f"yaxis{n}"] = dict(
        domain=yd, anchor=xname, range=yr, tickvals=Y_TICKS,
        ticktext=[f"{v:.1f}" for v in Y_TICKS],
        title=dict(text=Y_TITLE if ytit else "", font=title_font, standoff=5),
        **common)

annotations = []
cap_pos = [(308, 389), (1014, 389), (308, 833), (1014, 833)]
for text, (cx, cy) in zip(CAPTIONS, cap_pos):
    annotations.append(dict(text=text, x=cx / W, y=1 - cy / H, xref="paper", yref="paper",
                            showarrow=False, xanchor="center", yanchor="middle",
                            font=dict(family="Liberation Serif", size=25, color="black")))

fig.update_layout(width=W, height=H, margin=dict(l=0, r=0, t=0, b=0),
                  paper_bgcolor="white", plot_bgcolor="white",
                  annotations=annotations, **layout)

fig.write_html("out.html", config={"displayModeBar": False},
               post_script="document.body.style.margin='0px';")
